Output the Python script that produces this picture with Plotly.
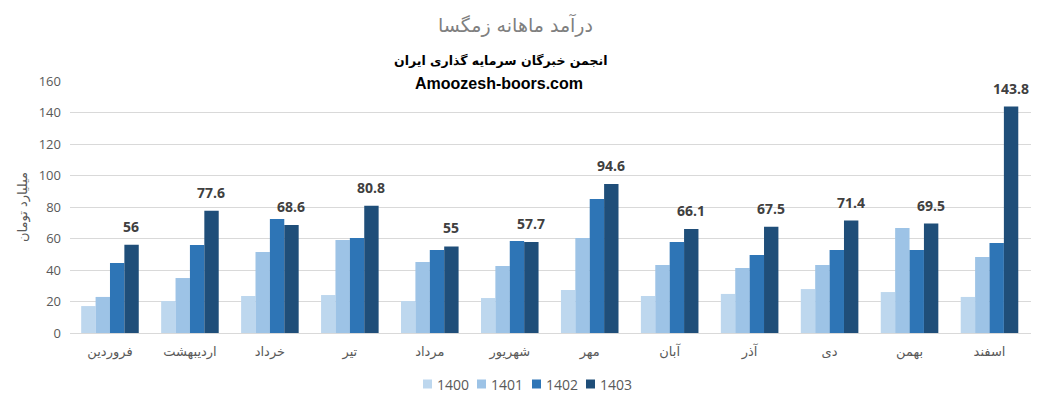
import plotly.graph_objects as go

months = ["فروردین", "اردیبهشت", "خرداد", "تیر", "مرداد", "شهریور",
          "مهر", "آبان", "آذر", "دی", "بهمن", "اسفند"]
years = ["1400", "1401", "1402", "1403"]
v1400 = [17.1, 20.3, 23.5, 24.1, 20.3, 22.2, 27.3, 23.5, 24.8, 27.9, 26.0, 22.9]
v1401 = [22.9, 34.9, 51.4, 59.0, 45.1, 42.5, 60.3, 43.2, 41.3, 43.2, 66.7, 48.3]
v1402 = [44.4, 55.9, 72.4, 60.3, 52.7, 58.4, 85.1, 57.8, 49.5, 52.7, 52.7, 57.1]
v1403 = [56, 77.6, 68.6, 80.8, 55, 57.7, 94.6, 66.1, 67.5, 71.4, 69.5, 143.8]
colors = ["#BDD7EE", "#9DC3E6", "#2E75B6", "#1F4E79"]

FONT = "Open Sans, DejaVu Sans, sans-serif"
PFONT = "DejaVu Sans, sans-serif"

# plot-area geometry (pixels inside the page) used only to place layout text
PL, PR, PT, PB = 70, 1031, 81, 333
def px(xp):
    return (xp - PL) / (PR - PL)
def py(yp):
    return (PB - yp) / (PB - PT)

fig = go.Figure()
for name, vals, col in zip(years, [v1400, v1401, v1402, v1403], colors):
    fig.add_trace(go.Bar(x=months, y=vals, name=name, marker_color=col,
                         marker_line_width=0, showlegend=False))

# data labels for 1403 series
for i, v in enumerate(v1403):
    fig.add_annotation(x=i, y=v, xref="x", yref="y", text="<b>%s</b>" % (f"{v:g}"),
                       showarrow=False, xshift=21.5, yshift=7, yanchor="bottom",
                       font=dict(size=14, color="#404040", family=FONT))

fig.add_annotation(text="درآمد ماهانه زمگسا", xref="paper", yref="paper",
                   x=px(515), y=py(25), showarrow=False,
                   font=dict(size=19, color="#7F7F7F", family=PFONT),
                   yanchor="middle", xanchor="center")
fig.add_annotation(text="<b>انجمن خبرگان سرمایه گذاری ایران</b>", xref="paper", yref="paper",
                   x=px(500), y=py(60), showarrow=False,
                   font=dict(size=12.5, color="#000000", family=PFONT),
                   yanchor="middle", xanchor="center")
fig.add_annotation(text="<b>Amoozesh-boors.com</b>", xref="paper", yref="paper",
                   x=px(499), y=py(83), showarrow=False,
                   font=dict(size=16, color="#000000", family="Liberation Sans"),
                   yanchor="middle", xanchor="center")

# legend (compact, Excel-like)
leg_x = [423, 477, 532, 586]
for name, col, lx in zip(years, colors, leg_x):
    fig.add_shape(type="rect", xref="paper", yref="paper",
                  x0=px(lx), x1=px(lx + 9), y0=py(388.5), y1=py(379.5),
                  fillcolor=col, line_width=0)
    fig.add_annotation(text=name, xref="paper", yref="paper", x=px(lx + 12), y=py(384),
                       xanchor="left", yanchor="middle", showarrow=False,
                       font=dict(size=14, color="#595959", family=FONT))

fig.update_layout(
    width=1032, height=398,
    margin=dict(l=PL - 8, r=1040 - PR, t=PT - 8, b=406 - PB, autoexpand=False),
    paper_bgcolor="white", plot_bgcolor="white",
    barmode="group", bargap=0.28, bargroupgap=0,
    font=dict(family=FONT, color="#595959"),
    showlegend=False,
)
fig.update_xaxes(showgrid=False, showline=True, linecolor="#D9D9D9", linewidth=1,
                 ticks="", ticklabelstandoff=6, automargin=False,
                 tickfont=dict(size=13, color="#595959", family=PFONT))
fig.update_yaxes(range=[0, 160], dtick=20, showgrid=True, gridcolor="#D9D9D9",
                 gridwidth=1, zeroline=False, ticks="", ticklabelstandoff=8,
                 automargin=False,
                 tickfont=dict(size=13, color="#595959", family=FONT),
                 title=dict(text="میلیارد تومان", font=dict(size=13, color="#595959", family=PFONT),
                            standoff=8))

fig.write_html("out.html")
